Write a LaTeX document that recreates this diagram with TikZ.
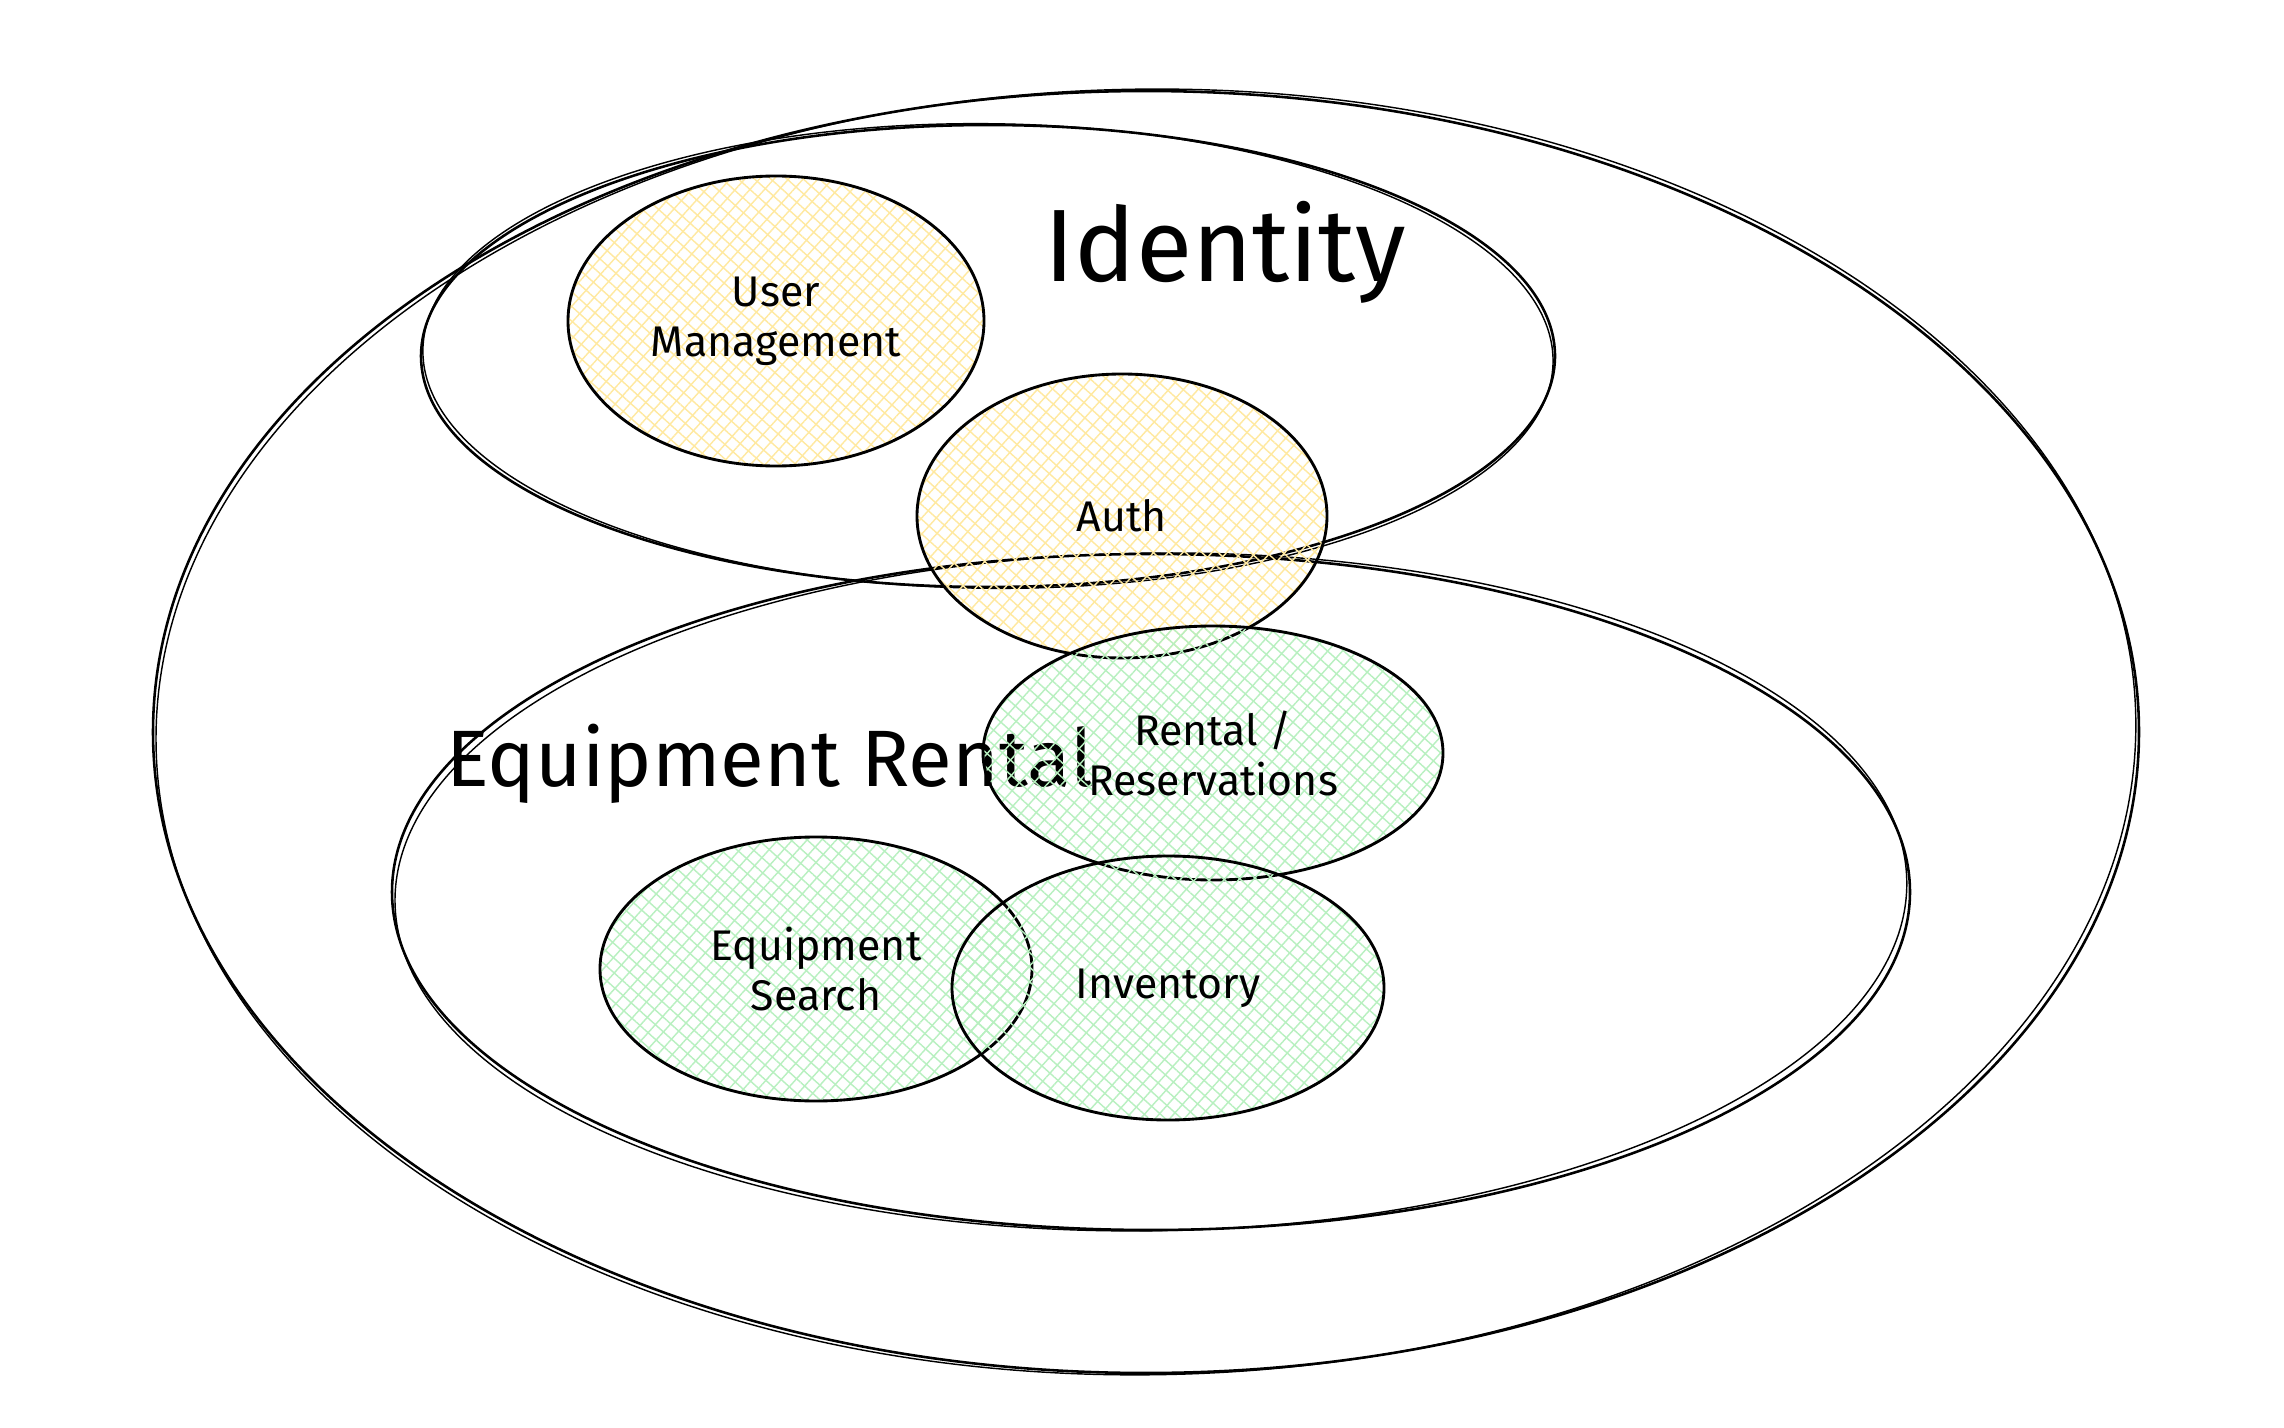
\documentclass[tikz,border=0pt]{standalone}
\usepackage{fontspec}
\setmainfont{Fira Sans}
\usetikzlibrary{shapes.geometric,patterns.meta}
\definecolor{hyel}{HTML}{FFE9A0}
\definecolor{hgrn}{HTML}{B8F0C0}
\begin{document}
\begin{tikzpicture}[x=0.35pt,y=-0.35pt,
  outline/.style={draw=black,line width=1pt,ellipse,inner sep=0pt,align=center,
    font=\fontsize{15pt}{17.5pt}\selectfont},
  bigring/.style={draw=black,line width=0.9pt,ellipse,inner sep=0pt},
  hatched/.style={outline,
    preaction={pattern color=#1,pattern={Lines[angle=48,distance=3.8pt,line width=0.5pt]}},
    preaction={pattern color=#1,pattern={Lines[angle=-42,distance=3.8pt,line width=0.5pt]}}},
  rough/.style={line width=0.5pt},
  title/.style={inner sep=0pt}]
\useasboundingbox (0,0) rectangle (2284,1428);
\fill[white] (0,0) rectangle (2284,1428);

% large containers
\node[bigring,minimum width=695.1pt,minimum height=448.7pt] (outer) at (1146,732) {};
\draw[rough,rotate around={0.7:(outer.center)}] (outer.center) ellipse [x radius=346.5pt,y radius=225pt];
\node[bigring,minimum width=396.9pt,minimum height=161.7pt] (identity) at (988,356) {};
\draw[rough,rotate around={-0.6:(identity.center)}] (identity.center) ellipse [x radius=197.8pt,y radius=81.3pt];
\node[bigring,minimum width=531.3pt,minimum height=236.6pt] (rentalctx) at (1151,892) {};
\draw[rough,rotate around={0.8:(rentalctx.center)}] (rentalctx.center) ellipse [x radius=264.6pt,y radius=118.6pt];

% titles
\node[title,font=\fontsize{36pt}{40pt}\selectfont] (idtitle) at (1225,252) {Identity};
\node[title,font=\fontsize{28pt}{32pt}\selectfont] (ertitle) at (770,764) {Equipment Rental};

% identity subdomains
\node[hatched=hyel,minimum width=145.6pt,minimum height=101.5pt] (user) at (776,321) {User\\Management};
\node[hatched=hyel,minimum width=143.5pt,minimum height=99.4pt] (auth) at (1122,516) {Auth};

% rental subdomains
\node[hatched=hgrn,minimum width=161pt,minimum height=88.9pt] (reserv) at (1213,753) {Rental /\\Reservations};
\node[hatched=hgrn,minimum width=151.2pt,minimum height=92.4pt] (search) at (816,969) {Equipment\\Search};
\node[hatched=hgrn,minimum width=151.2pt,minimum height=92.4pt] (inventory) at (1168,988) {Inventory};
\end{tikzpicture}
\end{document}
